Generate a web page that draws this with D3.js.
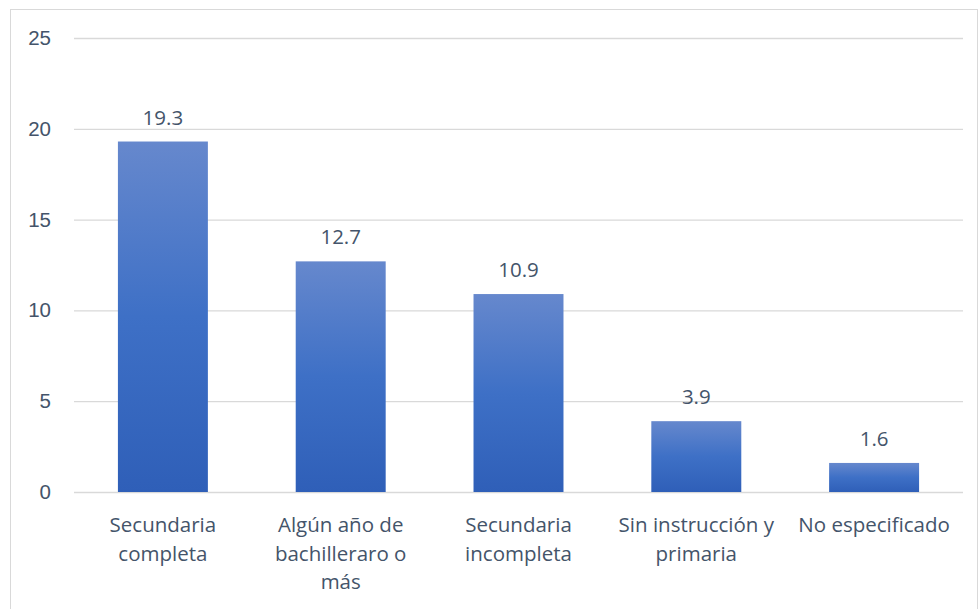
<!DOCTYPE html>
<html><head><meta charset="utf-8">
<script src="https://cdn.jsdelivr.net/npm/d3@7/dist/d3.min.js"></script>
<style>body{margin:0;background:#fff;} svg{display:block;font-family:"Open Sans",sans-serif;}</style>
</head><body><svg id="c" width="979" height="609"></svg>
<script>
const categories = ["Secundaria completa","Algún año de bachilleraro o más","Secundaria incompleta","Sin instrucción y primaria","No especificado"];
const categoryLines = [["Secundaria","completa"],["Algún año de","bachilleraro o","más"],["Secundaria","incompleta"],["Sin instrucción y","primaria"],["No especificado"]];
const values = [19.3,12.7,10.9,3.9,1.6];
const yTicks = [0,5,10,15,20,25];

const svg = d3.select("#c");
const textColor = "#44546a";
const fs = "20.5px";
svg.append("rect").attr("x",10.5).attr("y",9.5).attr("width",967).attr("height",610)
  .attr("fill","#fff").attr("stroke","#d9d9d9");

const defs = svg.append("defs");
const g = defs.append("linearGradient").attr("id","bg").attr("x1",0).attr("y1",0).attr("x2",0).attr("y2",1);
g.append("stop").attr("offset","0%").attr("stop-color","#6688cd");
g.append("stop").attr("offset","50%").attr("stop-color","#3e70c6");
g.append("stop").attr("offset","100%").attr("stop-color","#2f5fb8");

const x = d3.scaleBand().domain(categories).range([74,963]).paddingInner(0.494).paddingOuter(0.247);
const y = d3.scaleLinear().domain([0,25]).range([492,38]);

const yAxis = svg.append("g").attr("transform","translate(74,0)")
  .call(d3.axisLeft(y).tickValues(yTicks).tickSize(-(963-74)).tickFormat(d3.format("d")));
yAxis.select(".domain").remove();
yAxis.selectAll(".tick line").attr("stroke","#d9d9d9").attr("stroke-width",1.3);
yAxis.selectAll(".tick text").attr("x",-23).attr("fill",textColor).style("font-size",fs).attr("text-anchor","end");

svg.append("g").selectAll("rect").data(values).join("rect")
  .attr("x",(d,i)=>x(categories[i])).attr("width",x.bandwidth())
  .attr("y",d=>y(d)).attr("height",d=>y(0)-y(d)).attr("fill","url(#bg)");

svg.append("g").selectAll("text").data(values).join("text")
  .attr("x",(d,i)=>x(categories[i])+x.bandwidth()/2).attr("y",d=>y(d)-17)
  .attr("text-anchor","middle").attr("fill",textColor).style("font-size",fs)
  .text(d=>d3.format(".1f")(d));

const xl = svg.append("g");
categories.forEach((c,i)=>{
  const t = xl.append("text").attr("x",x(c)+x.bandwidth()/2).attr("y",532)
    .attr("text-anchor","middle").attr("fill",textColor).style("font-size",fs);
  categoryLines[i].forEach((ln,j)=>t.append("tspan").attr("x",x(c)+x.bandwidth()/2).attr("dy",j?28.5:0).text(ln));
});
</script></body></html>
